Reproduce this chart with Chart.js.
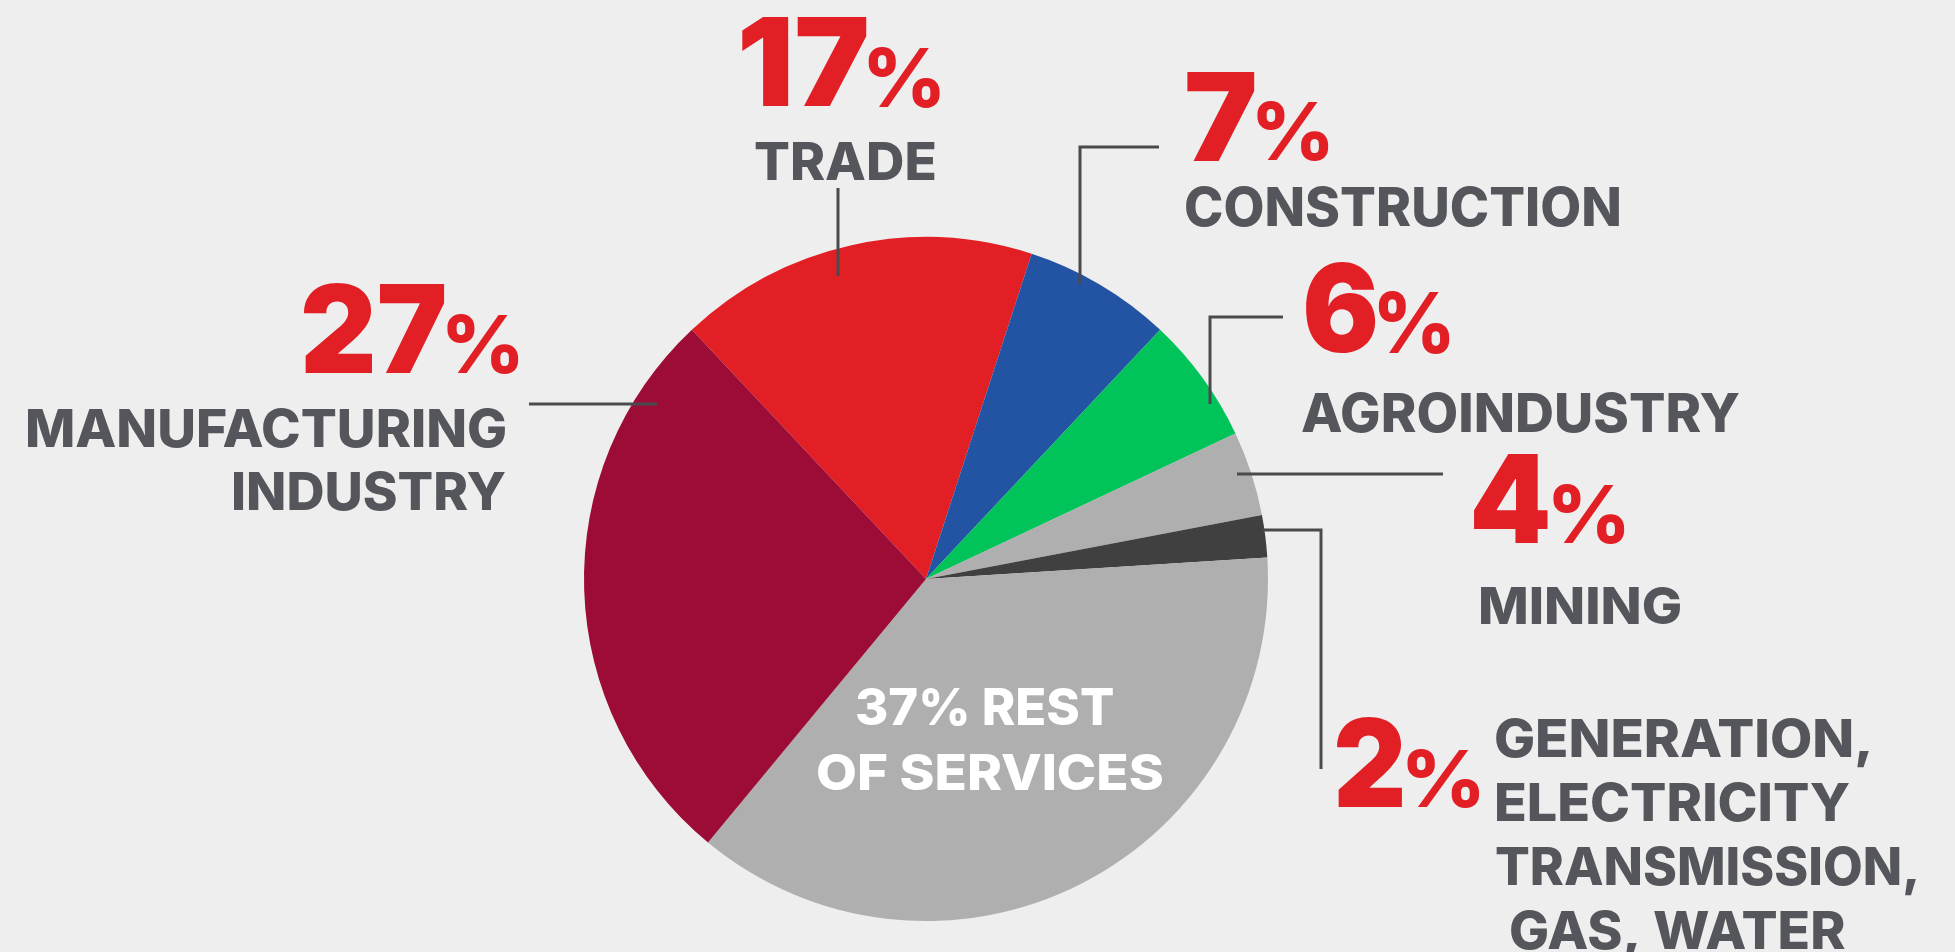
<!DOCTYPE html>
<html>
<head>
<meta charset="utf-8">
<script src="https://cdn.jsdelivr.net/npm/chart.js@4"></script>
<style>
  html, body { margin: 0; padding: 0; background: #eeeeee; overflow: hidden; }
  canvas { display: block; }
</style>
</head>
<body>
<canvas id="pie" width="1955" height="952"></canvas>
<script>
// ---------- DATA ----------
const sectors = ["TRADE", "CONSTRUCTION", "AGROINDUSTRY", "MINING", "GENERATION, ELECTRICITY TRANSMISSION, GAS, WATER", "REST OF SERVICES", "MANUFACTURING INDUSTRY"];
const shares = [17, 7, 6, 4, 2, 37, 27];
const sliceColors = ["#e31f26", "#2354a4", "#00c45a", "#afafaf", "#404040", "#afafaf", "#9c0c36"];

const RED = "#e31f26";
const GREY_TEXT = "#54565b";
const LINE = "#4a4a4c";
const FONT = "Inter, 'Noto Sans', sans-serif";

// draw text so its ink box starts at x, cap top at y, with given cap height and ink width
function fitText(ctx, text, x, y, capH, w, color, weight) {
    ctx.font = weight + " 100px " + FONT;
    const h = ctx.measureText("H").actualBoundingBoxAscent;
    const size = 100 * capH / h;
    ctx.font = weight + " " + size + "px " + FONT;
    ctx.textAlign = "left";
    ctx.textBaseline = "alphabetic";
    const m = ctx.measureText(text);
    const ink = m.actualBoundingBoxLeft + m.actualBoundingBoxRight;
    const sx = w / ink;
    ctx.save();
    ctx.translate(x, y + capH);
    ctx.scale(sx, 1);
    ctx.fillStyle = color;
    ctx.fillText(text, m.actualBoundingBoxLeft, 0);
    ctx.restore();
}

function poly(ctx, pts) {
    ctx.beginPath();
    ctx.moveTo(pts[0][0], pts[0][1]);
    for (let i = 1; i < pts.length; i++) ctx.lineTo(pts[i][0], pts[i][1]);
    ctx.stroke();
}

// big red number + smaller percent sign
function bigPct(ctx, i, x, y, numW, pctX, pctY, pctH) {
    fitText(ctx, String(shares[i]), x, y, 89, numW, RED, "900");
    fitText(ctx, "%", pctX, pctY, pctH, 72, RED, "800");
}

/* ---------- LABELS + LEADER LINES ---------- */
const labelPlugin = {
    id: "labels",
    beforeDraw(chart) {
        const ctx = chart.ctx;
        ctx.save();
        ctx.fillStyle = "#eeeeee";
        ctx.fillRect(0, 0, chart.width, chart.height);
        ctx.restore();
    },
    afterDraw(chart) {
        const ctx = chart.ctx;
        ctx.save();

        // leader lines
        ctx.strokeStyle = LINE;
        ctx.lineWidth = 3;
        ctx.lineCap = "butt";
        poly(ctx, [[838, 188], [838, 276]]);
        poly(ctx, [[1159, 147], [1080, 147], [1080, 284]]);
        poly(ctx, [[1283, 317], [1210, 317], [1210, 404]]);
        poly(ctx, [[1237, 474], [1443, 474]]);
        poly(ctx, [[1263, 530], [1321, 530], [1321, 769]]);
        poly(ctx, [[529, 404], [657, 404]]);

        // trade
        bigPct(ctx, 0, 742, 17, 125, 868, 48, 59);
        fitText(ctx, "TRADE", 755, 142, 38, 180, GREY_TEXT, "800");

        // construction
        bigPct(ctx, 1, 1187, 72, 68, 1257, 102, 58);
        fitText(ctx, "CONSTRUCTION", 1186, 187, 39, 433, GREY_TEXT, "800");

        // agroindustry
        bigPct(ctx, 2, 1306, 263, 70, 1378, 292, 61);
        fitText(ctx, "AGROINDUSTRY", 1302, 393, 39, 437, GREY_TEXT, "800");

        // mining
        bigPct(ctx, 3, 1474, 454, 74, 1553, 485, 58);
        fitText(ctx, "MINING", 1480, 587, 37, 200, GREY_TEXT, "800");

        // generation ...
        bigPct(ctx, 4, 1337, 718, 65, 1407, 750, 57);
        fitText(ctx, "GENERATION,", 1496, 719, 38, 373, GREY_TEXT, "800");
        fitText(ctx, "ELECTRICITY", 1496, 783, 38, 353, GREY_TEXT, "800");
        fitText(ctx, "TRANSMISSION,", 1496, 847, 38, 420, GREY_TEXT, "800");
        fitText(ctx, "GAS, WATER", 1511, 911, 38, 334, GREY_TEXT, "800");

        // manufacturing
        bigPct(ctx, 6, 304, 284, 141, 447, 315, 58);
        fitText(ctx, "MANUFACTURING", 27, 409, 38, 478, GREY_TEXT, "800");
        fitText(ctx, "INDUSTRY", 233, 472, 38, 272, GREY_TEXT, "800");

        // rest of services (inside the slice)
        fitText(ctx, shares[5] + "% REST", 857, 688, 37, 256, "#ffffff", "800");
        fitText(ctx, "OF SERVICES", 817, 754, 36, 345, "#ffffff", "800");

        ctx.restore();
    }
};

new Chart(document.getElementById("pie"), {
    type: "pie",
    data: {
        labels: sectors,
        datasets: [{
            data: shares,
            backgroundColor: sliceColors,
            borderWidth: 0
        }]
    },
    options: {
        responsive: false,
        animation: false,
        devicePixelRatio: 1,
        rotation: -43.2,
        layout: { padding: { left: 584, right: 687, top: 237, bottom: 31 } },
        plugins: {
            legend: { display: false },
            tooltip: { enabled: false }
        }
    },
    plugins: [labelPlugin]
});
</script>
</body>
</html>
